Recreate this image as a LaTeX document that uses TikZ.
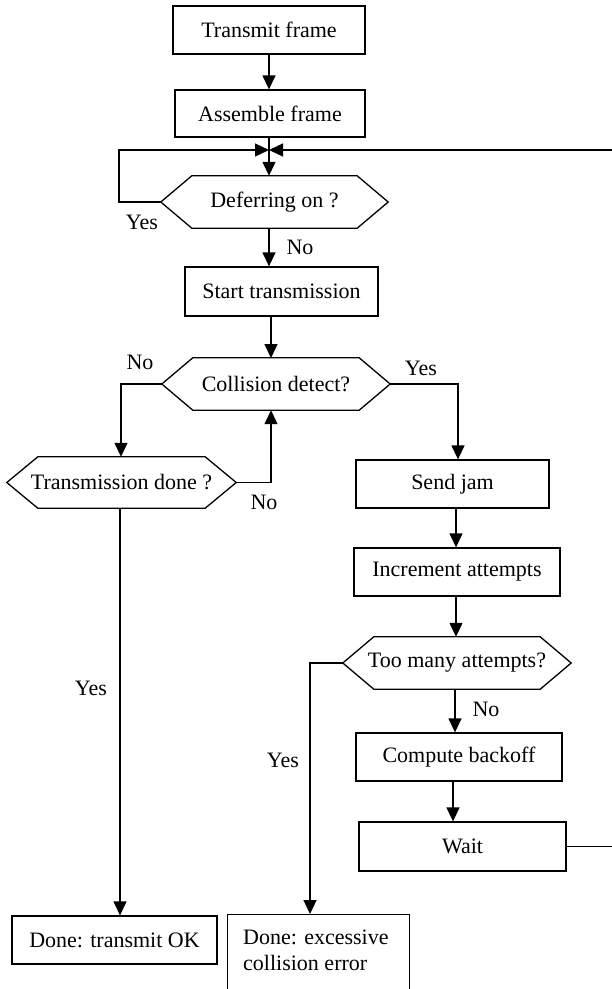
\documentclass[tikz,border=0pt]{standalone}
\usepackage{fontspec}
\setmainfont{Liberation Serif}
\usetikzlibrary{arrows.meta}
\newcommand\drawhex[1]{\draw[ln] (#1.west) -- ([xshift=31pt]#1.north west) -- ([xshift=-31pt]#1.north east) -- (#1.east) -- ([xshift=-31pt]#1.south east) -- ([xshift=31pt]#1.south west) -- cycle;}
\begin{document}
\begin{tikzpicture}[x=1pt,y=-1pt,
  ln/.style={line width=1.3pt},
  every node/.style={font=\fontsize{22}{26}\selectfont, inner sep=0pt},
  box/.style={draw, ln, minimum height=48pt},
  hexnode/.style={minimum height=52pt},
  arr/.style={ln, -{Triangle[length=14pt,width=13pt]}},
  lbl/.style={}]
\useasboundingbox (0,0) rectangle (612,989);
% nodes
\node[box, minimum width=192pt] (tf) at (269,30) {Transmit frame};
\node[box, minimum width=190pt, minimum height=47pt] (af) at (270,113.5) {Assemble frame};
\coordinate (j) at (269,150);
\node[hexnode, minimum width=227pt] (def) at (274.5,202) {Deferring on ?};
\node[box, minimum width=193pt, minimum height=49pt] (st) at (281.5,291.5) {Start transmission};
\node[hexnode, minimum width=228pt] (cd) at (276,384) {Collision detect?};
\node[hexnode, minimum width=229pt, minimum height=51pt] (td) at (121.5,482.5) {Transmission done ?};
\node[box, minimum width=193pt] (sj) at (452.5,484) {Send jam};
\node[box, minimum width=206pt] (ia) at (457,572) {Increment attempts};
\node[hexnode, minimum width=228pt] (tm) at (457,663) {Too many attempts?};
\node[box, minimum width=206pt] (cb) at (459,757) {Compute backoff};
\node[box, minimum width=207pt, minimum height=49pt] (wt) at (462.5,846.5) {Wait};
\node[box, minimum width=205pt] (ok) at (114.5,940) {Done: transmit OK};
\node[box, minimum width=182pt, minimum height=86pt, anchor=north west] (ex) at (227,914) {};
\node[anchor=west, align=left] (extxt) at (243,950) {Done: excessive\\collision error};
\drawhex{def}
\drawhex{cd}
\drawhex{td}
\drawhex{tm}
% labels
\node[lbl] (l1) at (142,222) {Yes};
\node[lbl] (l2) at (300,247) {No};
\node[lbl] (l3) at (140,362) {No};
\node[lbl] (l4) at (264,502) {No};
\node[lbl] (l5) at (421,368) {Yes};
\node[lbl] (l6) at (91,688) {Yes};
\node[lbl] (l7) at (283,760) {Yes};
\node[lbl] (l8) at (486,709) {No};
% connectors
\draw[arr] (tf.south -| j) -- (af.north -| j);
\draw[ln] (af.south -| j) -- (j);
\draw[arr] (j) -- (j |- def.north);
\draw[arr] (def.west) -| (119,150) -- (j);
\draw[arr] (wt.east) -- (wt.east -| 613,0) |- (j);
\draw[arr] (j |- def.south) -- (j |- st.north);
\draw[arr] (271,316) -- (271,358);
\draw[arr] (cd.west) -| (td.north -| 121,0);
\draw[arr] (td.east) -| (cd.south -| 271,0);
\draw[arr] (cd.east) -| (sj.north -| 458,0);
\draw[arr] (sj.south -| 456,0) -- (ia.north -| 456,0);
\draw[arr] (ia.south -| 456,0) -- (tm.north -| 456,0);
\draw[arr] (tm.west) -| (ex.north -| 310,0);
\draw[arr] (tm.south -| 455,0) -- (cb.north -| 455,0);
\draw[arr] (cb.south -| 453,0) -- (wt.north -| 453,0);
\draw[arr] (td.south -| 120,0) -- (ok.north -| 120,0);
\end{tikzpicture}
\end{document}
